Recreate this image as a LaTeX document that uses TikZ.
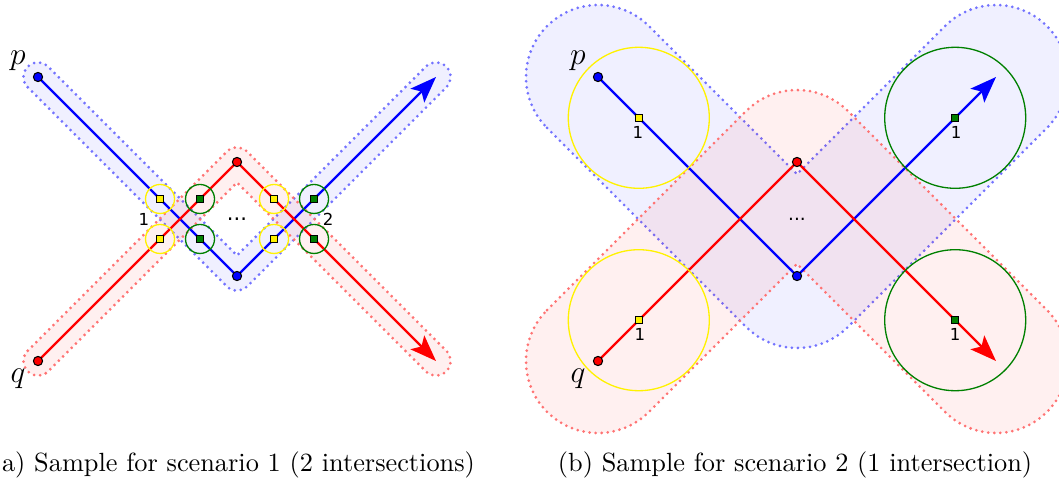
\documentclass[tikz,border=0pt]{standalone}
\usepackage{amsmath}
\usepackage{fontspec}
\newfontfamily\labelfont{DejaVu Sans}
\usetikzlibrary{calc,positioning,arrows.meta}

\begin{document}
\begin{tikzpicture}[x=0.38pt,y=0.38pt,
    pline/.style={line width=0.9pt},
    bluehalo/.style={fill=blue,fill opacity=0.06,draw=blue!55,line width=1.15pt,
      dash pattern=on 0pt off 2.3pt,line cap=round},
    redhalo/.style={fill=red,fill opacity=0.06,draw=red!55,line width=1.15pt,
      dash pattern=on 0pt off 2.3pt,line cap=round},
    vdot/.style={circle,draw=black,line width=0.4pt,inner sep=0pt,minimum size=3.5pt},
    sqbox/.style={rectangle,draw=black,line width=0.4pt,inner sep=0pt,minimum size=2.8pt},
    ysq/.style={sqbox,fill=yellow},
    gsq/.style={sqbox,fill=green!50!black},
    ycirc/.style={draw=yellow,line width=0.5pt},
    gcirc/.style={draw=green!50!black,line width=0.5pt},
    numlabel/.style={font=\labelfont\fontsize{6.3}{7}\selectfont,inner sep=0pt},
    ptlabel/.style={font=\large,inner sep=0pt},
    arrowend/.style={-{Stealth[length=10pt,width=7.4pt,inset=2.2pt]}}
  ]

  % parameters
  \def\cs{14.5}  % circle radius, sample 1
  \def\cb{70.5}  % circle radius, sample 2

  % page
  \useasboundingbox (0,0) rectangle (1059,482);
  \clip (0,0) rectangle (1059,482);

  % both samples: p goes down then up (blue), q goes up then down (red)
  \foreach \i/\dx/\rad in {1/0/14.5,2/560/72} {
    \coordinate (bp\i) at (38+\dx,405);
    \coordinate (bb\i) at (237+\dx,206);
    \coordinate (bt\i) at (436+\dx,405);
    \coordinate (rq\i) at (38+\dx,121);
    \coordinate (rr\i) at (237+\dx,320);
    \coordinate (rs\i) at (436+\dx,121);

    % halos round the two paths
    \filldraw[bluehalo] ($(bp\i)+(225:\rad)$) -- ($(bb\i)+(225:\rad)$)
        arc[start angle=225,end angle=315,radius=\rad] -- ($(bt\i)+(315:\rad)$)
        arc[start angle=-45,end angle=135,radius=\rad] -- ($(bb\i)+(90:1.4142*\rad)$)
        -- ($(bp\i)+(45:\rad)$) arc[start angle=45,end angle=225,radius=\rad] -- cycle;
    \filldraw[redhalo] ($(rq\i)+(135:\rad)$) -- ($(rr\i)+(135:\rad)$)
        arc[start angle=135,end angle=45,radius=\rad] -- ($(rs\i)+(45:\rad)$)
        arc[start angle=45,end angle=-135,radius=\rad] -- ($(rr\i)+(270:1.4142*\rad)$)
        -- ($(rq\i)+(-45:\rad)$) arc[start angle=-45,end angle=-225,radius=\rad] -- cycle;

    % paths
    \draw[pline,blue,arrowend] (bp\i) -- (bb\i) -- (bt\i);
    \draw[pline,red,arrowend] (rq\i) -- (rr\i) -- (rs\i);
    \foreach \v/\col in {bp/blue,bb/blue,rq/red,rr/red}
      \node[vdot,fill=\col] (d\v\i) at (\v\i) {};

    \node[ptlabel] (plab\i) at ($(bp\i)+(-20,16)$) {$p$};
    \node[ptlabel] (qlab\i) at ($(rq\i)+(-20,-18)$) {$q$};
  }

  % sample 1: two crossings
  \coordinate (x1) at (intersection of bp1--bb1 and rq1--rr1);
  \coordinate (x2) at (intersection of bb1--bt1 and rr1--rs1);
  \foreach \xc in {x1,x2}
    \foreach \s/\n in {20/u,-20/l} {
      \node[ysq] (\xc y\n) at ($(\xc)+(-20,\s)$) {};
      \node[gsq] (\xc g\n) at ($(\xc)+(20,\s)$) {};
      \draw[ycirc] (\xc y\n) circle (\cs);
      \draw[gcirc] (\xc g\n) circle (\cs);
    }
  \node[numlabel] (one1) at ($(x1)+(-36,0)$) {1};
  \node[numlabel] (two1) at ($(x2)+(34,0)$) {2};
  \node[numlabel,font=\labelfont\fontsize{8}{9}\selectfont] (dots1) at ($(x1)!0.5!(x2)$) {...};

  % sample 2: one crossing
  \node[ysq] (yp2) at ($(bp2)!0.205!(bb2)$) {};
  \node[gsq] (gp2) at ($(bb2)!0.795!(bt2)$) {};
  \node[ysq] (yq2) at ($(rq2)!0.205!(rr2)$) {};
  \node[gsq] (gq2) at ($(rr2)!0.795!(rs2)$) {};
  \draw[ycirc] (yp2) circle (\cb);
  \draw[gcirc] (gp2) circle (\cb);
  \draw[ycirc] (yq2) circle (\cb);
  \draw[gcirc] (gq2) circle (\cb);
  \foreach \s/\sx in {yp2/-1,gp2/1,yq2/1,gq2/0}
    \node[numlabel,below=1.3pt of \s,xshift=\sx*0.38pt] (l\s) {1};
  \node[numlabel,font=\labelfont\fontsize{7}{8}\selectfont] (dots2) at ($(rr2)!0.5!(bb2)$) {...};

  % captions
  \node[inner sep=0pt] (capa) at (238.5,17) {a) Sample for scenario 1 (2 intersections)};
  \node[inner sep=0pt] (capb) at (795,17) {(b) Sample for scenario 2 (1 intersection)};

\end{tikzpicture}
\end{document}
